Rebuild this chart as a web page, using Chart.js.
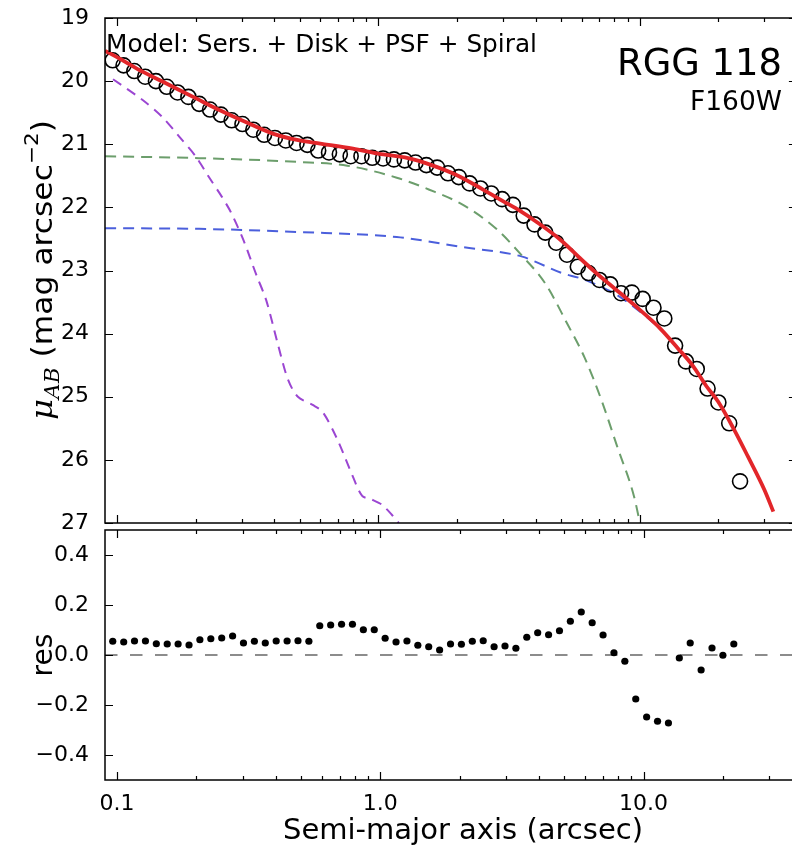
<!DOCTYPE html>
<html>
<head>
<meta charset="utf-8">
<script src="https://cdn.jsdelivr.net/npm/chart.js@4.4.1/dist/chart.umd.min.js"></script>
<style>
  html, body { margin: 0; padding: 0; background: #fff; overflow: hidden; }
  #wrap { position: relative; width: 792px; height: 849px; overflow: hidden; background: #fff; }
  #top { position: absolute; left: 0; top: 0; }
  #bot { position: absolute; left: 0; top: 525px; }
</style>
</head>
<body>
<div id="wrap">
  <canvas id="top" width="806" height="533" style="width:806px;height:533px"></canvas>
  <canvas id="bot" width="806" height="324" style="width:806px;height:324px"></canvas>
</div>
<script>
// measured profile (open circles) and residuals
const radius = [0.0963, 0.1060, 0.1165, 0.1282, 0.1410, 0.1551, 0.1706, 0.1877, 0.2064, 0.2271,
  0.2498, 0.2748, 0.3022, 0.3325, 0.3657, 0.4023, 0.4426, 0.4868, 0.5355, 0.5890,
  0.6479, 0.7127, 0.7840, 0.8624, 0.9487, 1.0435, 1.1478, 1.2626, 1.3889, 1.5276,
  1.6804, 1.8485, 2.0333, 2.2367, 2.4604, 2.7064, 2.9770, 3.2747, 3.6022, 3.9624,
  4.3585, 4.7944, 5.2738, 5.8012, 6.3814, 7.0195, 7.7215, 8.4937, 9.3430, 10.277,
  11.305, 12.435, 13.677, 15.045, 16.551, 18.206, 20.026, 22.029, 24.24];
const mu = [19.67, 19.75, 19.84, 19.93, 20.00, 20.09, 20.18, 20.25, 20.36, 20.45,
  20.53, 20.62, 20.68, 20.77, 20.85, 20.90, 20.94, 20.98, 21.01, 21.10,
  21.13, 21.16, 21.19, 21.19, 21.215, 21.225, 21.24, 21.255, 21.29, 21.33,
  21.37, 21.46, 21.52, 21.62, 21.70, 21.78, 21.87, 21.96, 22.13, 22.27,
  22.40, 22.56, 22.75, 22.94, 23.04, 23.15, 23.22, 23.36, 23.35, 23.45,
  23.59, 23.76, 24.19, 24.44, 24.56, 24.87, 25.09, 25.42, 26.34];
const residual = [0.055, 0.052, 0.056, 0.056, 0.045, 0.044, 0.044, 0.040, 0.061, 0.065,
  0.068, 0.076, 0.048, 0.055, 0.048, 0.056, 0.056, 0.057, 0.055, 0.117,
  0.120, 0.123, 0.123, 0.101, 0.101, 0.067, 0.052, 0.056, 0.039, 0.033,
  0.020, 0.044, 0.043, 0.055, 0.057, 0.033, 0.036, 0.027, 0.071, 0.089,
  0.081, 0.097, 0.135, 0.172, 0.129, 0.080, 0.009, -0.025, -0.176, -0.248,
  -0.265, -0.272, -0.012, 0.048, -0.060, 0.028, -0.001, 0.044, null];

// total model (red)
const modelR = [0.09, 0.1, 0.12, 0.15, 0.2, 0.25, 0.3, 0.4, 0.5, 0.6, 0.8, 1.0, 1.3, 1.6, 2.0, 2.5,
  3.0, 3.5, 4.0, 5.0, 6.0, 7.0, 8.0, 10, 12, 14, 16, 18, 20, 23, 26, 30, 32.5];
const modelMu = [19.52, 19.62, 19.81, 20.01, 20.27, 20.47, 20.62, 20.84, 20.94, 20.99, 21.07, 21.15,
  21.22, 21.33, 21.49, 21.71, 21.90, 22.06, 22.22, 22.52, 22.83, 23.08, 23.28, 23.62, 23.92,
  24.23, 24.51, 24.83, 25.08, 25.52, 25.95, 26.47, 26.82];

// components
const sersicR = [0.0901, 0.206, 0.492, 0.761, 1.177, 1.569, 2.110, 2.813, 3.558, 4.348, 5.313,
  6.161, 7.143, 8.213, 9.524, 10.03];
const sersicMu = [21.19, 21.22, 21.28, 21.34, 21.53, 21.72, 21.96, 22.33, 22.77, 23.20, 23.86,
  24.38, 25.05, 25.79, 26.58, 27.00];
const diskR = [0.0901, 0.206, 0.492, 1.177, 2.110, 3.558, 3.985, 5.042, 6.002, 7.143, 8.213, 10.39, 11.34];
const diskMu = [22.33, 22.34, 22.39, 22.47, 22.63, 22.78, 22.86, 23.04, 23.13, 23.26, 23.39, 23.70, 23.83];
const psfR = [0.0966, 0.1254, 0.1493, 0.1731, 0.2008, 0.2248, 0.2518, 0.2723, 0.3049, 0.3415,
  0.3725, 0.4136, 0.4515, 0.4924, 0.5612, 0.6123, 0.6980, 0.7950, 0.8677, 0.9467, 1.033, 1.127, 1.198];
const psfMu = [19.97, 20.30, 20.57, 20.88, 21.20, 21.52, 21.83, 22.07, 22.52, 23.07,
  23.47, 24.18, 24.73, 25.00, 25.13, 25.24, 25.68, 26.24, 26.57, 26.63, 26.71, 26.87, 27.00];

const zeroR = [0.09, 40];
const zeroRes = [0, 0];

// axes
const X_MIN = 0.09, X_MAX = 40;
const xTicks = [0.1, 1, 10];
const xTickLabels = ["0.1", "1.0", "10.0"];
const xMinorTicks = [0.2, 0.3, 0.4, 0.5, 0.6, 0.7, 0.8, 0.9, 2, 3, 4, 5, 6, 7, 8, 9, 20, 30];
const muTicks = [19, 20, 21, 22, 23, 24, 25, 26, 27];
const resTicks = [0.4, 0.2, 0.0, -0.2, -0.4];
const resTickLabels = ["0.4", "0.2", "0.0", "\u22120.2", "\u22120.4"];

const RED = "#e2262a";
const GREEN = "#6c9e6c";
const BLUE = "#4b5fdc";
const PURPLE = "#9b46d2";

function pairs(xs, ys) {
  return xs.map((x, i) => ({ x: x, y: ys[i] }));
}

function drawFit(ctx, text, x, y, font, width, align) {
  ctx.save();
  ctx.font = font;
  const w = ctx.measureText(text).width;
  ctx.translate(x, y);
  ctx.scale(width / w, 1);
  ctx.textAlign = align;
  ctx.textBaseline = "alphabetic";
  ctx.fillStyle = "#000";
  ctx.fillText(text, 0, 0);
  ctx.restore();
}

// keep chart areas exactly where the reference has them
function fixX(height) {
  return (s) => { s.height = height; s.paddingLeft = 0; s.paddingRight = 0; s.paddingTop = 0; s.paddingBottom = 0; };
}
function fixY(s) {
  s.width = 105; s.paddingTop = 0; s.paddingBottom = 0; s.paddingLeft = 0; s.paddingRight = 0;
}

// matplotlib-like box with inward ticks
const framePlugin = {
  id: "frame",
  afterDraw(chart) {
    const ctx = chart.ctx;
    const { left, right, top, bottom } = chart.chartArea;
    const xs = chart.scales.x, ys = chart.scales.y;
    ctx.save();
    ctx.strokeStyle = "#000";
    ctx.lineWidth = 1.2;
    ctx.beginPath();
    xTicks.forEach((v) => {
      const px = Math.round(xs.getPixelForValue(v)) + 0.5;
      ctx.moveTo(px, bottom); ctx.lineTo(px, bottom - 8);
      ctx.moveTo(px, top); ctx.lineTo(px, top + 8);
    });
    xMinorTicks.forEach((v) => {
      const px = Math.round(xs.getPixelForValue(v)) + 0.5;
      ctx.moveTo(px, bottom); ctx.lineTo(px, bottom - 4);
      ctx.moveTo(px, top); ctx.lineTo(px, top + 4);
    });
    ys.ticks.forEach((t) => {
      const py = Math.round(ys.getPixelForValue(t.value)) + 0.5;
      ctx.moveTo(left, py); ctx.lineTo(left + 8, py);
      ctx.moveTo(right, py); ctx.lineTo(right - 8, py);
    });
    ctx.stroke();
    ctx.lineWidth = 1.5;
    ctx.strokeRect(left, top, right - left, bottom - top);
    ctx.restore();
  }
};

const topText = {
  id: "topText",
  afterDraw(chart) {
    const ctx = chart.ctx;
    drawFit(ctx, "Model: Sers. + Disk + PSF + Spiral", 106, 52, "25px 'DejaVu Sans'", 431, "left");
    drawFit(ctx, "RGG 118", 782, 75, "37px 'DejaVu Sans'", 165, "right");
    drawFit(ctx, "F160W", 782, 110, "26px 'DejaVu Sans'", 92, "right");

    // rotated y label: mu_AB (mag arcsec^-2)
    const parts = [
      { t: "\u03bc", f: "italic 30px 'DejaVu Serif'", dy: 0 },
      { t: "AB", f: "italic 20px 'DejaVu Serif'", dy: 7 },
      { t: " (mag arcsec", f: "29px 'DejaVu Sans'", dy: 0 },
      { t: "\u22122", f: "20px 'DejaVu Sans'", dy: -14 },
      { t: ")", f: "29px 'DejaVu Sans'", dy: 0 }
    ];
    ctx.save();
    let total = 0;
    parts.forEach((p) => { ctx.font = p.f; p.w = ctx.measureText(p.t).width; total += p.w; });
    ctx.translate(52, 270);
    ctx.rotate(-Math.PI / 2);
    ctx.scale(300 / total, 1);
    ctx.fillStyle = "#000";
    ctx.textBaseline = "alphabetic";
    let cx = -total / 2;
    parts.forEach((p) => { ctx.font = p.f; ctx.fillText(p.t, cx, p.dy); cx += p.w; });
    ctx.restore();
  }
};

const botText = {
  id: "botText",
  afterDraw(chart) {
    const ctx = chart.ctx;
    ctx.save();
    ctx.translate(52, 130);
    ctx.rotate(-Math.PI / 2);
    drawFit(ctx, "res", 0, 0, "28px 'DejaVu Sans'", 43, "center");
    ctx.restore();
    drawFit(ctx, "Semi-major axis (arcsec)", 463, 314, "29px 'DejaVu Sans'", 360, "center");
  }
};

const tickFont = { family: "'DejaVu Sans'", size: 22 };

new Chart(document.getElementById("top"), {
  type: "scatter",
  data: {
    datasets: [
      { data: pairs(radius, mu), showLine: false, pointRadius: 7.5, pointBorderWidth: 1.6,
        pointBorderColor: "#000", pointBackgroundColor: "rgba(0,0,0,0)", order: 3 },
      { type: "line", data: pairs(psfR, psfMu), borderColor: PURPLE, borderWidth: 2,
        borderDash: [10, 7], pointRadius: 0, fill: false, tension: 0.3, order: 4 },
      { type: "line", data: pairs(sersicR, sersicMu), borderColor: GREEN, borderWidth: 2,
        borderDash: [11, 7], pointRadius: 0, fill: false, cubicInterpolationMode: "monotone", order: 5 },
      { type: "line", data: pairs(diskR, diskMu), borderColor: BLUE, borderWidth: 2,
        borderDash: [11, 7], pointRadius: 0, fill: false, cubicInterpolationMode: "monotone", order: 6 },
      { type: "line", data: pairs(modelR, modelMu), borderColor: RED, borderWidth: 3.8,
        pointRadius: 0, fill: false, cubicInterpolationMode: "monotone", order: 1 }
    ]
  },
  options: {
    responsive: false,
    animation: false,
    events: [],
    layout: { padding: { top: 18, right: 1, left: 0, bottom: 0 } },
    plugins: { legend: { display: false }, tooltip: { enabled: false } },
    scales: {
      x: {
        type: "logarithmic", min: X_MIN, max: X_MAX,
        grid: { display: false }, border: { display: false },
        ticks: { display: false },
        afterFit: fixX(10)
      },
      y: {
        type: "linear", reverse: true, min: 19, max: 27,
        grid: { display: false }, border: { display: false },
        afterBuildTicks: (s) => { s.ticks = muTicks.map((v) => ({ value: v })); },
        ticks: { color: "#000", font: tickFont, padding: 8, callback: (v) => String(v) },
        afterFit: fixY
      }
    }
  },
  plugins: [framePlugin, topText]
});

new Chart(document.getElementById("bot"), {
  type: "scatter",
  data: {
    datasets: [
      { data: pairs(radius, residual), showLine: false, pointRadius: 3.6, pointBorderWidth: 0,
        pointBackgroundColor: "#000", order: 1 },
      { type: "line", data: pairs(zeroR, zeroRes), borderColor: "#8c8c8c", borderWidth: 2,
        borderDash: [12.5, 12.5], pointRadius: 0, fill: false, order: 2 }
    ]
  },
  options: {
    responsive: false,
    animation: false,
    events: [],
    layout: { padding: { top: 5, right: 1, left: 0, bottom: 0 } },
    plugins: { legend: { display: false }, tooltip: { enabled: false } },
    scales: {
      x: {
        type: "logarithmic", min: X_MIN, max: X_MAX,
        grid: { display: false }, border: { display: false },
        afterBuildTicks: (s) => { s.ticks = xTicks.map((v) => ({ value: v })); },
        ticks: { color: "#000", font: tickFont, padding: 3, maxRotation: 0, autoSkip: false,
          callback: (v, i) => xTickLabels[i] },
        afterFit: fixX(69)
      },
      y: {
        type: "linear", min: -0.5, max: 0.5,
        grid: { display: false }, border: { display: false },
        afterBuildTicks: (s) => { s.ticks = resTicks.map((v) => ({ value: v })); },
        ticks: { color: "#000", font: tickFont, padding: 8, callback: (v, i) => resTickLabels[i] },
        afterFit: fixY
      }
    }
  },
  plugins: [framePlugin, botText]
});
</script>
</body>
</html>
